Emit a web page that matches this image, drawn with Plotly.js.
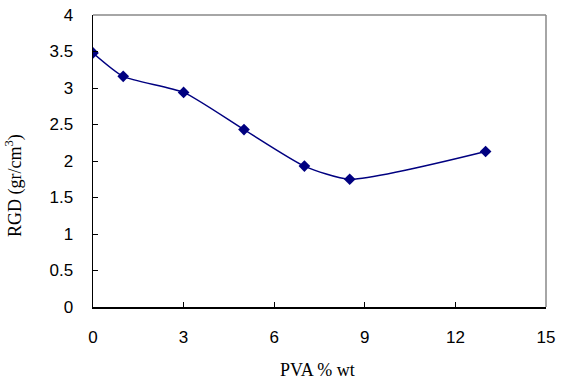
<!DOCTYPE html>
<html>
<head>
<meta charset="utf-8">
<script src="https://cdn.plot.ly/plotly-3.0.1.min.js"></script>
<style>html,body{margin:0;padding:0;background:#fff;}#chart{width:580px;height:384px;}</style>
</head>
<body>
<div id="chart"></div>
<script>
const pvaWt = [0, 1, 3, 5, 7, 8.5, 13];
const rgd = [3.48, 3.16, 2.94, 2.43, 1.93, 1.75, 2.13];
const xTicks = [0, 3, 6, 9, 12, 15];
const yTicks = [0, 0.5, 1, 1.5, 2, 2.5, 3, 3.5, 4];
const xTitle = 'PVA % wt';
const yTitle = 'RGD (gr/cm<sup>3</sup>)';

const trace = {
  x: pvaWt, y: rgd, type: 'scatter', mode: 'lines+markers',
  line: {color: '#000080', width: 1.5, shape: 'spline', smoothing: 0.6},
  marker: {symbol: 'diamond', size: 9, color: '#000080'},
  showlegend: false, hoverinfo: 'skip'
};

const serif = '"Liberation Serif", "Times New Roman", serif';

const layout = {
  width: 580, height: 384,
  margin: {l: 93, r: 34, t: 15, b: 77},
  paper_bgcolor: '#fff', plot_bgcolor: '#fff',
  font: {family: '"Liberation Sans", Arial, sans-serif', size: 17, color: '#000'},
  xaxis: {
    range: [0, 15], tickvals: xTicks, ticktext: xTicks.map(String),
    showgrid: false, zeroline: false, showline: true, linecolor: '#000', linewidth: 1.5,
    ticks: 'inside', ticklen: 5, tickcolor: '#000', ticklabelstandoff: 14
  },
  yaxis: {
    range: [0, 4], tickvals: yTicks, ticktext: yTicks.map(String),
    showgrid: false, zeroline: false, showline: true, linecolor: '#000', linewidth: 1.5,
    ticks: 'inside', ticklen: 5, tickcolor: '#000', ticklabelstandoff: 15
  },
  annotations: [
    {text: xTitle, xref: 'paper', yref: 'paper', x: 0.4956, y: -0.2158,
     xanchor: 'center', yanchor: 'middle', showarrow: false, font: {family: serif, size: 18}},
    {text: yTitle, xref: 'paper', yref: 'paper', x: -0.1744, y: 0.418, textangle: -90,
     xanchor: 'center', yanchor: 'middle', showarrow: false, font: {family: serif, size: 18}}
  ],
  shapes: [
    {type: 'line', xref: 'paper', yref: 'paper', x0: 0, x1: 1, y0: 1, y1: 1, line: {color: '#888', width: 1.5}},
    {type: 'line', xref: 'paper', yref: 'paper', x0: 1, x1: 1, y0: 0, y1: 1, line: {color: '#888', width: 1.5}}
  ]
};

Plotly.newPlot('chart', [trace], layout, {staticPlot: true, displayModeBar: false});
</script>
</body>
</html>
